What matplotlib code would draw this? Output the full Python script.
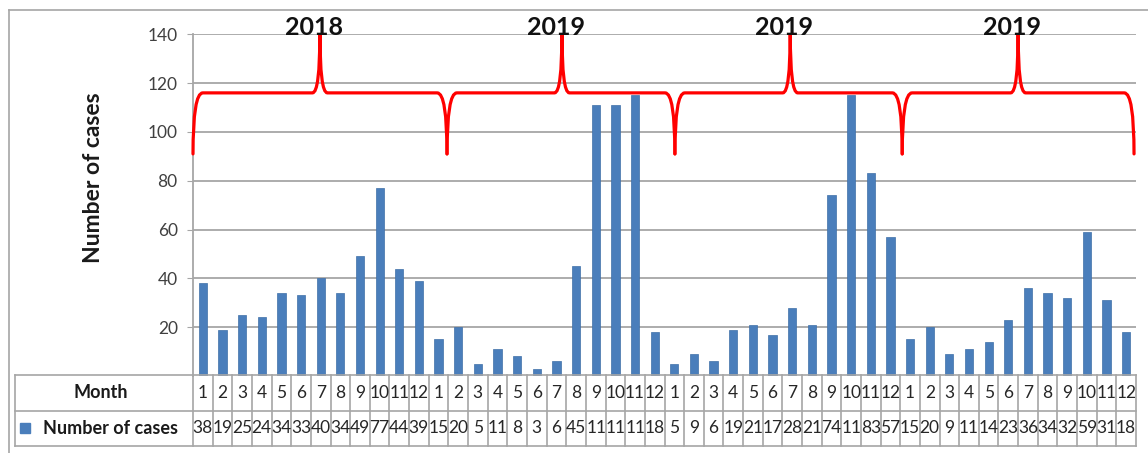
import matplotlib.pyplot as plt
from matplotlib.path import Path
from matplotlib.patches import PathPatch, Rectangle
from matplotlib.lines import Line2D

# data
months = list(range(1, 13)) * 4
cases = [38, 19, 25, 24, 34, 33, 40, 34, 49, 77, 44, 39,
         15, 20, 5, 11, 8, 3, 6, 45, 111, 111, 115, 18,
         5, 9, 6, 19, 21, 17, 28, 21, 74, 115, 83, 57,
         15, 20, 9, 11, 14, 23, 36, 34, 32, 59, 31, 18]
year_labels = ["2018", "2019", "2019", "2019"]

# brace layout (in bar-slot units)
brace_edges = [-0.5, 12.43, 24.03, 35.6, 47.4]
brace_tips = [5.96, 18.28, 29.9, 41.5]

plt.rcParams["font.family"] = ["Lato", "DejaVu Sans"]
narrow = ["Liberation Sans Narrow", "Lato", "DejaVu Sans"]
grid_c = "#a6a6a6"
bar_c = "#4a7ebb"

W, H = 1148, 453
fig = plt.figure(figsize=(W / 100, H / 100), dpi=100)

# outer frame of the chart object
fig.add_artist(Line2D([9 / W, 1], [1 - 10 / H, 1 - 10 / H], transform=fig.transFigure, color=grid_c, lw=1.2))
fig.add_artist(Line2D([9 / W, 9 / W], [0, 1 - 10 / H], transform=fig.transFigure, color=grid_c, lw=1.2))

left, right, top, base = 193, 1136, 34.3, 376
slot = (right - left) / 48
ax = fig.add_axes([left / W, (H - base) / H, (right - left) / W, (base - top) / H])
ax.bar(range(len(cases)), cases, width=0.42, color=bar_c, edgecolor="#3f6fa8", lw=0.5, zorder=2)
ax.set_xlim(-0.5, 47.5)
ax.set_ylim(0, 140)
ax.set_yticks(range(20, 141, 20))
ax.set_xticks([])
ax.yaxis.grid(True, color=grid_c, lw=1.3)
ax.set_axisbelow(True)
for s in ["top", "right", "bottom"]:
    ax.spines[s].set_visible(False)
ax.spines["left"].set_color(grid_c)
ax.spines["left"].set_linewidth(1.3)
ax.tick_params(axis="y", length=4, color=grid_c, labelsize=12.5, labelcolor="#404040", pad=7)

fig.text(93 / W, 1 - 178 / H, "Number of cases", rotation=90, ha="center", va="center",
         fontsize=16.5, fontweight="bold", color="#1a1a1a")

# red braces
y_end, y_mid, y_tip = 91, 116, 140.5
r_end, r_tip = 0.5, 0.38
for i in range(4):
    x0, x1, xm = brace_edges[i], brace_edges[i + 1], brace_tips[i]
    verts = [(x0, y_end), (x0, y_mid), (x0 + r_end, y_mid),
             (xm - r_tip, y_mid), (xm, y_mid), (xm, y_tip),
             (xm, y_mid), (xm + r_tip, y_mid),
             (x1 - r_end, y_mid), (x1, y_mid), (x1, y_end)]
    codes = [Path.MOVETO, Path.CURVE3, Path.CURVE3,
             Path.LINETO, Path.CURVE3, Path.CURVE3,
             Path.CURVE3, Path.CURVE3,
             Path.LINETO, Path.CURVE3, Path.CURVE3]
    ax.add_patch(PathPatch(Path(verts, codes), fill=False, edgecolor="#ff0000", lw=2.3,
                           clip_on=False, zorder=4, capstyle="round"))
    ax.text(xm - 0.3, 142.8, year_labels[i], ha="center", va="center", fontsize=18,
            fontweight="bold", family=narrow, color="#111111", clip_on=False, zorder=5)

# data table under the bars
t_left, t_top, t_bot = 15, 375, 446
xl = -0.5 - (left - t_left) / slot
tax = fig.add_axes([t_left / W, (H - t_bot) / H, (right - t_left) / W, (t_bot - t_top) / H])
tax.set_xlim(xl, 47.5)
tax.set_ylim(2, 0)
tax.axis("off")
for yy in [0, 1, 2]:
    tax.plot([xl, 47.5], [yy, yy], color=grid_c, lw=1.2, clip_on=False)
for xx in [xl] + [k - 0.5 for k in range(49)]:
    tax.plot([xx, xx], [0, 2], color=grid_c, lw=1.2, clip_on=False)

def px(v):
    return -0.5 + (v - left) / slot

tax.text(px(101), 0.5, "Month", ha="center", va="center", fontsize=13, fontweight="bold", color="#1a1a1a")
tax.add_patch(Rectangle((px(20), 1.36), 10 / slot, 0.28, color=bar_c))
tax.text(px(110), 1.5, "Number of cases", ha="center", va="center", fontsize=13,
         fontweight="bold", color="#1a1a1a")

for i in range(48):
    for row, val in [(0, months[i]), (1, cases[i])]:
        s = str(val)
        if len(s) > 2:
            t = tax.text(i - 0.48, row + 0.5, s, ha="left", va="center", fontsize=12.5,
                         family=narrow, color="#262626", clip_on=True)
        else:
            t = tax.text(i, row + 0.5, s, ha="center", va="center", fontsize=12.5,
                         family=narrow, color="#262626", clip_on=True)
        t.set_clip_path(Rectangle((i - 0.5, row), 1, 1, transform=tax.transData))

fig.savefig("out.png", dpi=100)
